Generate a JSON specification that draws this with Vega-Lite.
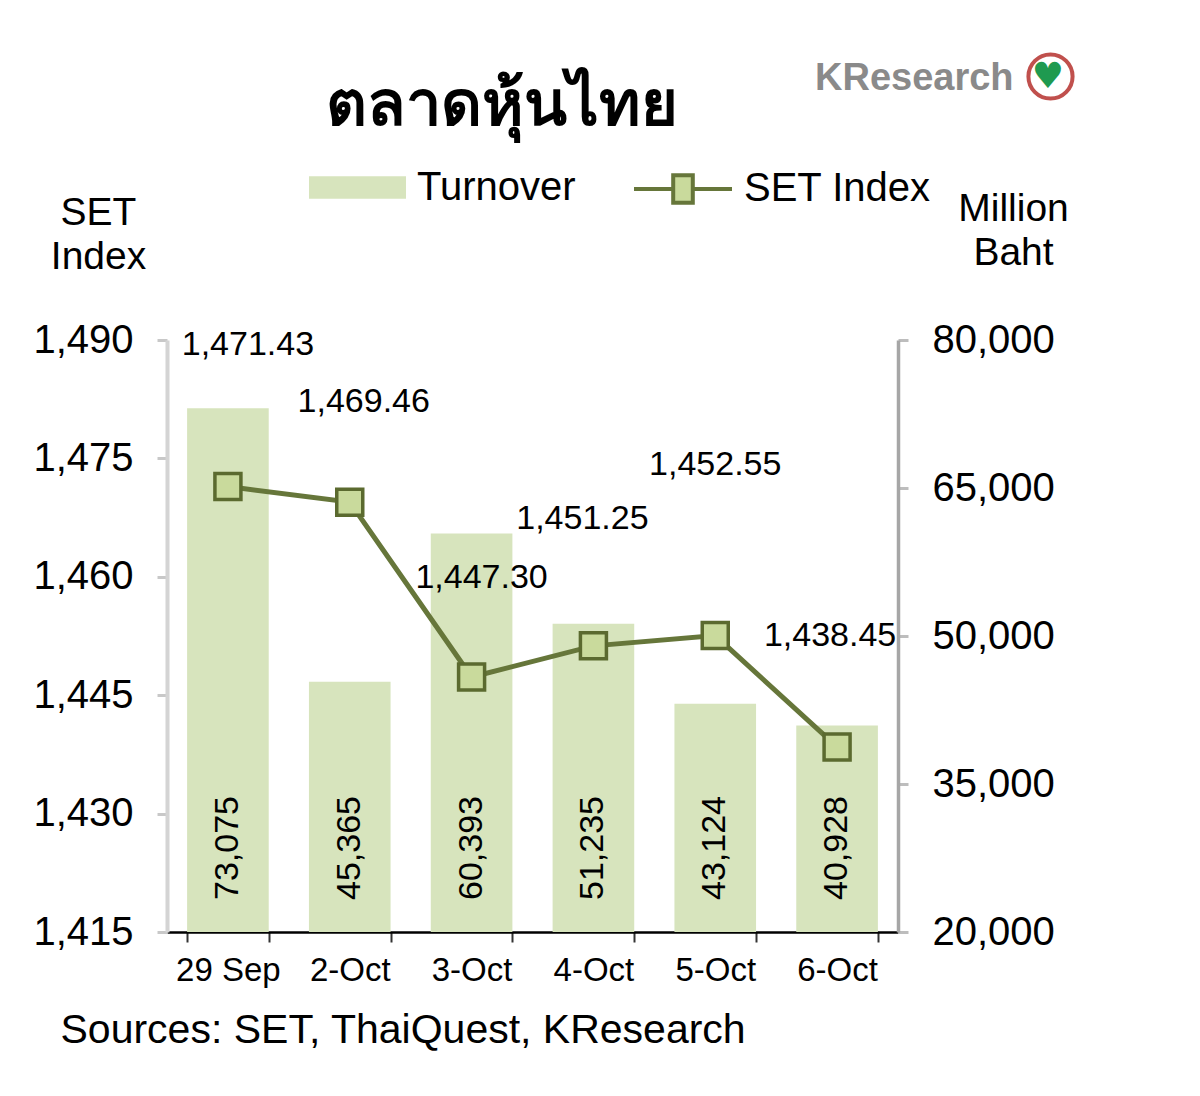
{
  "$schema": "https://vega.github.io/schema/vega-lite/v6.json",
  "width": 731,
  "height": 592,
  "autosize": {"type": "none"},
  "padding": {"left": 167, "top": 340, "right": 302, "bottom": 164},
  "background": "white",
  "config": {
    "font": "Liberation Sans",
    "view": {"stroke": null},
    "axis": {"grid": false, "labelColor": "black", "titleColor": "black", "labelFont": "Liberation Sans", "titleFont": "Liberation Sans", "titleFontWeight": "normal"},
    "legend": {"labelFont": "Liberation Sans", "labelColor": "black", "titleFont": "Liberation Sans", "labelLimit": 500, "titleLimit": 500}
  },
  "title": {"text": "ตลาดหุ้นไทย", "fontSize": 63, "fontWeight": "bold", "anchor": "middle", "offset": -86, "dx": -31, "color": "black"},
  "data": {"values": [
    {"date": "29 Sep", "turnover": 73075, "set": 1471.43},
    {"date": "2-Oct", "turnover": 45365, "set": 1469.46},
    {"date": "3-Oct", "turnover": 60393, "set": 1447.30},
    {"date": "4-Oct", "turnover": 51235, "set": 1451.25},
    {"date": "5-Oct", "turnover": 43124, "set": 1452.55},
    {"date": "6-Oct", "turnover": 40928, "set": 1438.45}
  ]},
  "encoding": {
    "x": {"field": "date", "type": "nominal", "sort": null,
      "scale": {"paddingInner": 0.33, "paddingOuter": 0.165},
      "axis": {"title": "Sources: SET, ThaiQuest, KResearch", "titleFontSize": 41, "titleX": -107, "titleY": 110, "titleAlign": "left", "titleBaseline": "alphabetic",
        "labelAngle": 0, "labelFontSize": 33, "labelPadding": 12, "tickBand": "extent", "tickSize": 10, "tickColor": "#333333", "tickWidth": 2, "domainColor": "black", "domainWidth": 2.5}}
  },
  "layer": [
    {
      "layer": [
        {"mark": {"type": "bar"},
          "encoding": {
            "y": {"field": "turnover", "type": "quantitative", "scale": {"domain": [20000, 80000], "zero": false, "nice": false},
              "axis": {"orient": "right", "values": [20000, 35000, 50000, 65000, 80000], "format": ",d", "labelFontSize": 40, "labelPadding": 24, "tickSize": 10, "tickColor": "#bdbdbd", "tickWidth": 3, "domainColor": "#a6a6a6", "domainWidth": 3.5,
                "title": ["Million", "Baht"], "titleAngle": 0, "titleX": 115, "titleY": -120, "titleAlign": "center", "titleBaseline": "alphabetic", "titleFontSize": 39, "titleLineHeight": 44}},
            "y2": {"datum": 20000},
            "fill": {"datum": "Turnover", "type": "nominal", "scale": {"range": ["#d7e4bd"]},
              "legend": {"title": null, "orient": "none", "legendX": 141, "legendY": -202, "symbolType": "M-1,-0.23H1V0.23H-1Z", "symbolSize": 9409, "labelFontSize": 40, "labelOffset": 10}}
          }},
        {"mark": {"type": "text", "angle": 270, "align": "left", "baseline": "middle", "dx": 32, "fontSize": 34, "color": "black"},
          "encoding": {
            "y": {"datum": 20000, "type": "quantitative"},
            "text": {"field": "turnover", "type": "quantitative", "format": ",d"}
          }}
      ]
    },
    {
      "layer": [
        {"mark": {"type": "line", "strokeWidth": 5},
          "encoding": {
            "y": {"field": "set", "type": "quantitative", "scale": {"domain": [1415, 1490], "zero": false, "nice": false},
              "axis": {"orient": "left", "values": [1415, 1430, 1445, 1460, 1475, 1490], "format": ",d", "labelFontSize": 40, "labelPadding": 24, "tickSize": 10, "tickColor": "#c8c8c8", "tickWidth": 3, "domainColor": "#d4d4d4", "domainWidth": 4,
                "title": ["SET", "Index"], "titleAngle": 0, "titleX": -69, "titleY": -116, "titleAlign": "center", "titleBaseline": "alphabetic", "titleFontSize": 39, "titleLineHeight": 44}},
            "stroke": {"datum": "SET Index", "type": "nominal", "scale": {"range": ["#66763a"]},
              "legend": {"title": null, "orient": "none", "legendX": 465, "legendY": -202, "symbolType": "M-1,0H-0.2M0.2,0H1M-0.2,-0.28H0.2V0.28H-0.2Z", "symbolSize": 9604, "labelFontSize": 40, "labelOffset": 10,
                "encode": {"symbols": {"update": {"fill": {"value": "#c9da9c"}, "stroke": {"value": "#66763a"}, "strokeWidth": {"value": 4}, "opacity": {"value": 1}}}}}}
          }},
        {"mark": {"type": "point", "shape": "square", "filled": true, "fill": "#c9da9c", "stroke": "#5b6a2f", "strokeWidth": 3.5, "size": 676, "opacity": 1},
          "encoding": {"y": {"field": "set", "type": "quantitative"}}},
        {"transform": [{"filter": {"field": "date", "equal": "29 Sep"}}],
          "mark": {"type": "text", "fontSize": 34, "color": "black", "dx": 20, "dy": -142},
          "encoding": {"y": {"field": "set", "type": "quantitative"}, "text": {"field": "set", "type": "quantitative", "format": ",.2f"}}},
        {"transform": [{"filter": {"field": "date", "equal": "2-Oct"}}],
          "mark": {"type": "text", "fontSize": 34, "color": "black", "dx": 14, "dy": -100},
          "encoding": {"y": {"field": "set", "type": "quantitative"}, "text": {"field": "set", "type": "quantitative", "format": ",.2f"}}},
        {"transform": [{"filter": {"field": "date", "equal": "3-Oct"}}],
          "mark": {"type": "text", "fontSize": 34, "color": "black", "dx": 10, "dy": -99},
          "encoding": {"y": {"field": "set", "type": "quantitative"}, "text": {"field": "set", "type": "quantitative", "format": ",.2f"}}},
        {"transform": [{"filter": {"field": "date", "equal": "4-Oct"}}],
          "mark": {"type": "text", "fontSize": 34, "color": "black", "dx": -11, "dy": -127},
          "encoding": {"y": {"field": "set", "type": "quantitative"}, "text": {"field": "set", "type": "quantitative", "format": ",.2f"}}},
        {"transform": [{"filter": {"field": "date", "equal": "5-Oct"}}],
          "mark": {"type": "text", "fontSize": 34, "color": "black", "dx": 0, "dy": -171},
          "encoding": {"y": {"field": "set", "type": "quantitative"}, "text": {"field": "set", "type": "quantitative", "format": ",.2f"}}},
        {"transform": [{"filter": {"field": "date", "equal": "6-Oct"}}],
          "mark": {"type": "text", "fontSize": 34, "color": "black", "dx": -7, "dy": -111},
          "encoding": {"y": {"field": "set", "type": "quantitative"}, "text": {"field": "set", "type": "quantitative", "format": ",.2f"}}}
      ]
    },
    {
      "transform": [{"filter": "false"}],
      "mark": {"type": "point", "shape": "circle", "filled": true, "fill": "white", "strokeWidth": 4, "opacity": 1},
      "encoding": {
        "y": {"field": "set", "type": "quantitative", "axis": null},
        "stroke": {"datum": "logo", "type": "nominal", "scale": {"range": ["#c0504d"]},
          "legend": {"title": "KResearch", "titleOrient": "left", "titleFontSize": 38, "titleFontWeight": "bold", "titleColor": "#8a8a8a", "titlePadding": 12,
            "orient": "none", "legendX": 648, "legendY": -288, "symbolType": "circle", "symbolSize": 1950, "symbolStrokeWidth": 4, "symbolFillColor": "white",
            "labelExpr": "'♥'", "labelColor": "#1f9a50", "labelFontSize": 36, "labelAlign": "center", "labelOffset": -27, "labelFont": "DejaVu Sans"}}
      }
    }
  ],
  "resolve": {"scale": {"y": "independent", "stroke": "independent"}}
}
